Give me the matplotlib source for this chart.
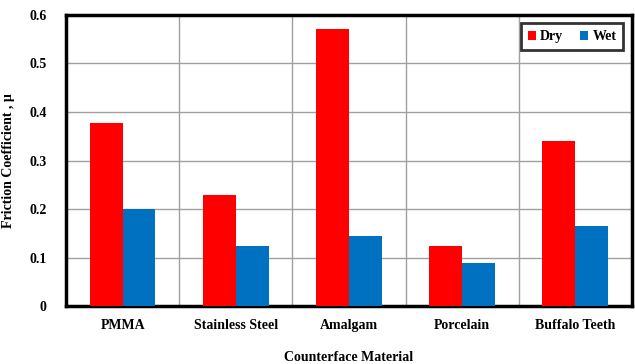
import matplotlib
matplotlib.use("Agg")
import matplotlib.pyplot as plt
import numpy as np

materials = ["PMMA", "Stainless Steel", "Amalgam", "Porcelain", "Buffalo Teeth"]
dry = [0.377, 0.229, 0.572, 0.124, 0.340]
wet = [0.200, 0.124, 0.144, 0.089, 0.165]
yticks = [0, 0.1, 0.2, 0.3, 0.4, 0.5, 0.6]
ytick_labels = ["0", "0.1", "0.2", "0.3", "0.4", "0.5", "0.6"]

plt.rcParams["font.family"] = ["Liberation Serif", "DejaVu Serif"]
plt.rcParams["font.weight"] = "bold"

fig = plt.figure(figsize=(6.35, 3.64), dpi=100)
ax = fig.add_axes([0.104, 0.159, 0.891, 0.800])

x = np.arange(len(materials))
w = 0.29
ax.bar(x - w / 2, dry, w, color="#ff0000", label="Dry", zorder=3)
ax.bar(x + w / 2, wet, w, color="#0070c0", label="Wet", zorder=3)

ax.set_xlim(-0.5, len(materials) - 0.5)
ax.set_ylim(0, 0.6)
ax.set_yticks(yticks)
ax.set_yticklabels(ytick_labels, fontsize=10, fontweight="bold")
ax.set_xticks(x)
ax.set_xticklabels(materials, fontsize=10, fontweight="bold")
ax.tick_params(axis="x", length=0, pad=9)
ax.tick_params(axis="y", length=0, pad=14)

# horizontal grid at each tick, vertical separators between categories
for yv in yticks[1:-1]:
    ax.axhline(yv, color="#a0a0a0", lw=1.0, zorder=1)
for xv in np.arange(0.5, len(materials) - 0.5, 1.0):
    ax.axvline(xv, color="#a0a0a0", lw=1.0, zorder=1)

for s in ax.spines.values():
    s.set_linewidth(2.5)
    s.set_color("black")

ax.set_ylabel("Friction Coefficient , μ", fontsize=10, fontweight="bold", labelpad=10)
ax.set_xlabel("Counterface Material", fontsize=10, fontweight="bold", labelpad=14)

leg = ax.legend(loc="upper right", ncol=2, fontsize=10, frameon=True, fancybox=False,
                handlelength=0.6, handleheight=0.6, handletextpad=0.3, columnspacing=1.2,
                borderaxespad=0.6, borderpad=0.5, edgecolor="black")
leg.get_frame().set_linewidth(2.0)
for t in leg.get_texts():
    t.set_fontweight("bold")

fig.savefig("out.png", dpi=100)
